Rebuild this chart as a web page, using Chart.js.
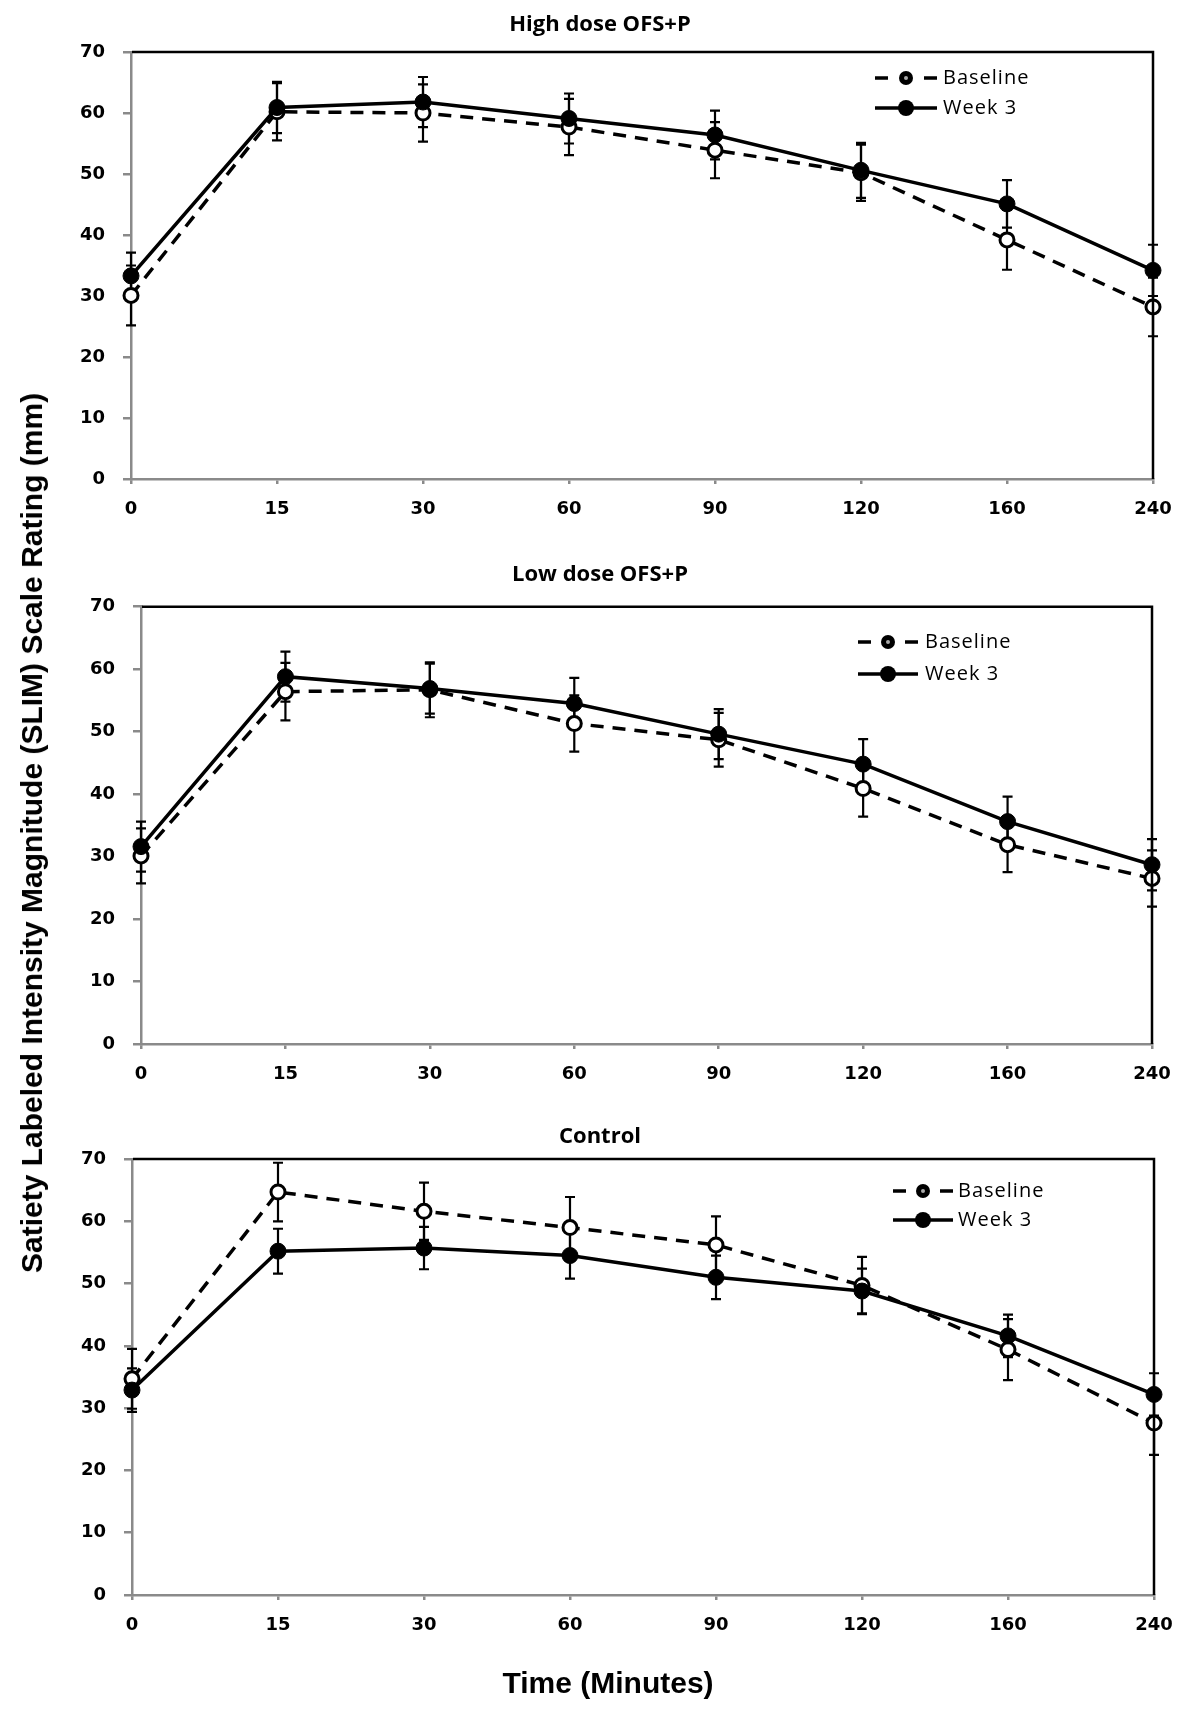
<!DOCTYPE html>
<html>
<head>
<meta charset="utf-8">
<script src="https://cdn.jsdelivr.net/npm/chart.js@4.4.1/dist/chart.umd.min.js"></script>
<style>
  body { margin: 0; background: #fff; }
  #page { position: relative; width: 1200px; height: 1718px; overflow: hidden; background: #fff; }
  canvas { position: absolute; left: 0; }
  .axis-title { position: absolute; font-family: "Liberation Sans", Arial, sans-serif; font-weight: bold; font-size: 30px; color: #000; white-space: nowrap; transform: translate(-50%, -50%); }
  #ytitle { left: 32px; top: 833px; transform: translate(-50%, -50%) rotate(-90deg); }
  #xtitle { left: 608px; top: 1683px; }
</style>
</head>
<body>
<div id="page">
  <canvas id="highChart" width="1200" height="540" style="top:0px"></canvas>
  <canvas id="lowChart" width="1200" height="560" style="top:540px"></canvas>
  <canvas id="controlChart" width="1200" height="618" style="top:1100px"></canvas>
  <div class="axis-title" id="ytitle">Satiety Labeled Intensity Magnitude (SLIM) Scale Rating (mm)</div>
  <div class="axis-title" id="xtitle">Time (Minutes)</div>
</div>
<script>
// time points (minutes), shown as evenly spaced categories
const categories = ['0', '15', '30', '60', '90', '120', '160', '240'];
const yTickValues = [0, 10, 20, 30, 40, 50, 60, 70];

// High dose OFS+P
const highBaseline    = [30.1, 60.2, 60.0, 57.7, 53.9, 50.2, 39.2, 28.2];
const highBaselineErr = [4.9, 4.7, 4.7, 4.6, 4.6, 4.6, 4.9, 4.8];
const highWeek3       = [33.3, 60.9, 61.8, 59.1, 56.4, 50.6, 45.1, 34.2];
const highWeek3Err    = [3.8, 4.2, 4.1, 4.1, 4.0, 4.5, 3.9, 4.2];

// Low dose OFS+P
const lowBaseline    = [30.1, 56.4, 56.7, 51.3, 48.7, 40.9, 31.9, 26.5];
const lowBaselineErr = [4.4, 4.6, 4.4, 4.5, 4.3, 4.5, 4.4, 4.5];
const lowWeek3       = [31.6, 58.8, 56.9, 54.5, 49.6, 44.8, 35.6, 28.7];
const lowWeek3Err    = [4.0, 4.0, 4.0, 4.1, 4.0, 4.0, 4.0, 4.1];

// Control
const ctrlBaseline    = [34.7, 64.7, 61.6, 59.0, 56.2, 49.7, 39.4, 27.6];
const ctrlBaselineErr = [4.8, 4.7, 4.6, 4.9, 4.6, 4.6, 4.9, 5.1];
const ctrlWeek3       = [32.9, 55.2, 55.7, 54.5, 51.0, 48.8, 41.6, 32.2];
const ctrlWeek3Err    = [3.5, 3.6, 3.4, 3.7, 3.5, 3.6, 3.4, 3.4];

const AXIS_GREY = '#8a8a8a';

// black frame on top and right side of the plot area
const framePlugin = {
  id: 'frame',
  afterDraw(chart) {
    const a = chart.chartArea, c = chart.ctx;
    c.save();
    c.strokeStyle = '#000';
    c.lineWidth = 2.5;
    c.beginPath();
    c.moveTo(a.left + 1, a.top);
    c.lineTo(a.right, a.top);
    c.lineTo(a.right, a.bottom);
    c.stroke();
    c.restore();
  }
};

// vertical +/- error bars, drawn under the markers
const errorBarPlugin = {
  id: 'errorBars',
  beforeDatasetsDraw(chart) {
    const c = chart.ctx, yScale = chart.scales.y;
    c.save();
    c.strokeStyle = '#000';
    c.lineWidth = 2.2;
    chart.data.datasets.forEach(function(ds, i) {
      const meta = chart.getDatasetMeta(i);
      meta.data.forEach(function(pt, j) {
        const v = ds.data[j], e = ds.errors[j];
        const yTop = yScale.getPixelForValue(v + e);
        const yBot = yScale.getPixelForValue(v - e);
        c.beginPath();
        c.moveTo(pt.x, yTop); c.lineTo(pt.x, yBot);
        c.moveTo(pt.x - 5, yTop); c.lineTo(pt.x + 5, yTop);
        c.moveTo(pt.x - 5, yBot); c.lineTo(pt.x + 5, yBot);
        c.stroke();
      });
    });
    c.restore();
  }
};

// excel-like legend inside the plot area
const slimLegendPlugin = {
  id: 'slimLegend',
  afterDraw(chart, args, opts) {
    const c = chart.ctx;
    const mid = (opts.x0 + opts.x1) / 2;
    c.save();
    c.strokeStyle = '#000';
    c.fillStyle = '#000';
    c.lineWidth = 3.5;
    // Baseline: dashed line with marker
    c.beginPath();
    c.moveTo(opts.x0, opts.y1); c.lineTo(opts.x0 + 13, opts.y1);
    c.moveTo(opts.x1 - 13, opts.y1); c.lineTo(opts.x1, opts.y1);
    c.stroke();
    c.beginPath();
    c.arc(mid, opts.y1, 7, 0, Math.PI * 2);
    c.fillStyle = '#000';
    c.fill();
    c.beginPath();
    c.arc(mid, opts.y1, 2, 0, Math.PI * 2);
    c.fillStyle = '#aaa';
    c.fill();
    // Week 3: solid line with filled marker
    c.beginPath();
    c.moveTo(opts.x0, opts.y2); c.lineTo(opts.x1, opts.y2);
    c.stroke();
    c.beginPath();
    c.arc(mid, opts.y2, 8, 0, Math.PI * 2);
    c.fillStyle = '#000';
    c.fill();
    c.font = '20px "Open Sans"';
    c.letterSpacing = '1px';
    c.textBaseline = 'middle';
    c.textAlign = 'left';
    c.fillText('Baseline', opts.textX, opts.y1);
    c.fillText('Week 3', opts.textX, opts.y2);
    c.restore();
  }
};

function buildPanel(id, title, geo, baseline, baselineErr, week3, week3Err) {
  const tickFont = {family: 'DejaVu Sans', size: 18, weight: 'bold'};
  const side = 1200 - geo.right;   // same margin on both sides keeps the title centred on the page
  return new Chart(document.getElementById(id), {
    type: 'line',
    data: {
      labels: categories,
      datasets: [
        {
          label: 'Week 3', data: week3, errors: week3Err,
          borderColor: '#000', borderWidth: 3.5, tension: 0, clip: false,
          pointRadius: 8, pointBackgroundColor: '#000', pointBorderColor: '#000', pointBorderWidth: 1
        },
        {
          label: 'Baseline', data: baseline, errors: baselineErr,
          borderColor: '#000', borderWidth: 3.5, borderDash: [13, 9], tension: 0, clip: false,
          pointRadius: 7, pointBackgroundColor: '#fff', pointBorderColor: '#000', pointBorderWidth: 3
        }
      ]
    },
    options: {
      responsive: false,
      animation: false,
      layout: {padding: {left: side, right: side, top: 0, bottom: 0}},
      plugins: {
        legend: {display: false},
        tooltip: {enabled: false},
        title: {
          display: true, text: title, color: '#000',
          font: {family: 'Open Sans', size: 22, weight: 'bold'},
          padding: {top: geo.titleTop, bottom: geo.titleBottom}
        },
        slimLegend: geo.legend
      },
      scales: {
        x: {
          grid: {drawOnChartArea: false, drawTicks: true, tickLength: 5, color: AXIS_GREY, lineWidth: 2.5},
          border: {display: true, color: AXIS_GREY, width: 2.5},
          ticks: {font: tickFont, color: '#000', padding: 15, maxRotation: 0, autoSkip: false},
          afterFit: function(scale) { scale.height = geo.xAxisH; }
        },
        y: {
          min: 0, max: 70,
          afterBuildTicks: function(scale) { scale.ticks = yTickValues.map(v => ({value: v})); },
          grid: {drawOnChartArea: false, drawTicks: true, tickLength: 8, color: AXIS_GREY, lineWidth: 2.5},
          border: {display: true, color: AXIS_GREY, width: 2.5},
          ticks: {font: tickFont, color: '#000', padding: 18},
          afterFit: function(scale) { scale.width = geo.left - side; }
        }
      }
    },
    plugins: [errorBarPlugin, framePlugin, slimLegendPlugin]
  });
}

// 22px title: block = top + 26.4 + bottom
buildPanel('highChart', 'High dose OFS+P',
  {left: 131, right: 1153, xAxisH: 61, titleTop: 11.8, titleBottom: 13.8,
   legend: {x0: 875, x1: 937, textX: 943, y1: 78, y2: 108}},
  highBaseline, highBaselineErr, highWeek3, highWeek3Err);

buildPanel('lowChart', 'Low dose OFS+P',
  {left: 141, right: 1152, xAxisH: 56, titleTop: 21.8, titleBottom: 18.5,
   legend: {x0: 858, x1: 918, textX: 925, y1: 102, y2: 134}},
  lowBaseline, lowBaselineErr, lowWeek3, lowWeek3Err);

buildPanel('controlChart', 'Control',
  {left: 132, right: 1154, xAxisH: 123, titleTop: 23.8, titleBottom: 8.8,
   legend: {x0: 893, x1: 953, textX: 958, y1: 91, y2: 120}},
  ctrlBaseline, ctrlBaselineErr, ctrlWeek3, ctrlWeek3Err);
</script>
</body>
</html>
